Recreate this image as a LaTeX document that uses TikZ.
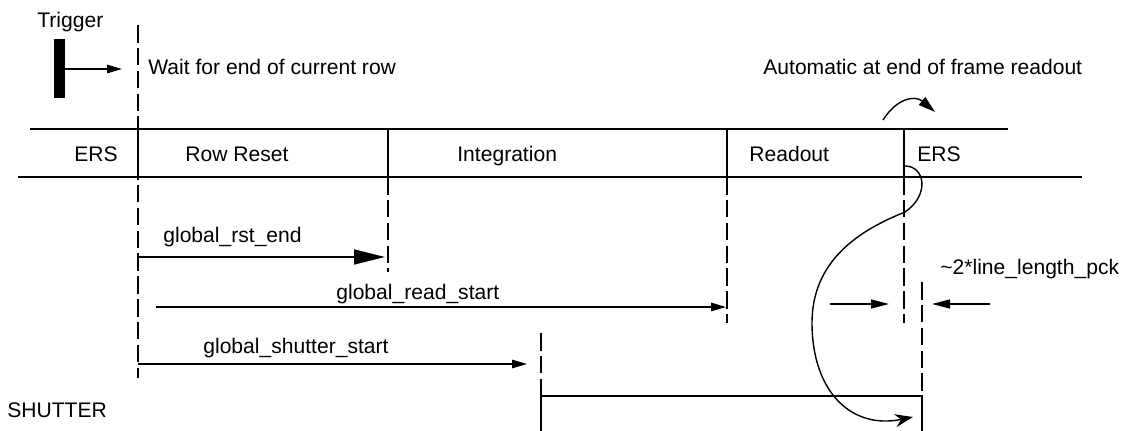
\documentclass[tikz,border=0pt]{standalone}
\usepackage{fontspec}
\setmainfont{Liberation Sans}
\usetikzlibrary{arrows.meta}

\begin{document}
\begin{tikzpicture}[
    x=0.02cm, y=-0.02cm,
    txt/.style={inner sep=0pt, font=\fontsize{12}{14}\selectfont},
    solidline/.style={line width=0.8pt},
    guide/.style={line width=0.8pt, dash pattern=on 10pt off 3pt},
    arrow/.style={line width=0.8pt, -{Triangle[length=3mm, width=1.7mm]}},
    bigarrow/.style={line width=0.8pt, -{Triangle[length=6.2mm, width=3mm]}},
    bendarrow/.style={line width=0.8pt, -{Stealth[length=3.6mm, width=2.6mm]}}
]
\useasboundingbox (0,0) rectangle (1124,431);

% trigger
\node[txt, anchor=base west] (trigger) at (37,28) {Trigger};
\node[fill, inner sep=0pt, minimum width=0.21cm, minimum height=1.18cm] (bar) at (59.5,69) {};
\coordinate (trigTip) at (122,69);
\draw[arrow] (bar.east) -- (trigTip);
\node[txt, anchor=base west] (wait) at (148,75) {Wait for end of current row};
\node[txt, anchor=base west] (auto) at (763,75) {Automatic at end of frame readout};

% row band
\coordinate (topL) at (30,129);
\coordinate (topR) at (1008,129);
\coordinate (botL) at (18,177);
\coordinate (botR) at (1082,177);
\draw[solidline] (topL) -- (topR);
\draw[solidline] (botL) -- (botR);
\foreach \x/\n in {138/a, 388/b, 727/c, 904/d} {
    \coordinate (up\n) at (\x,129);
    \coordinate (dn\n) at (\x,177);
    \draw[solidline] (up\n) -- (dn\n);
}
\node[txt, anchor=base east] (ersA) at (118,162) {ERS};
\node[txt, anchor=base west] (reset) at (185,162) {Row Reset};
\node[txt, anchor=base west] (integ) at (457,162) {Integration};
\node[txt, anchor=base west] (readout) at (749,162) {Readout};
\node[txt, anchor=base west] (ersB) at (917,162) {ERS};

% guides
\coordinate (trigTop) at (138,25);
\coordinate (trigBot) at (138,378);
\coordinate (rstBot) at (388,272);
\coordinate (readBot) at (727,323);
\coordinate (ersBot) at (904,323);
\coordinate (pckTop) at (922,282);
\coordinate (shutTop) at (541,333);
\coordinate (shutL) at (541,396);
\coordinate (shutR) at (922,396);
\coordinate (shutLB) at (541,431);
\coordinate (shutRB) at (922,431);
\draw[guide] (trigTop) -- (trigBot);
\draw[guide] (dnb) -- (rstBot);
\draw[guide] (dnc) -- (readBot);
\draw[guide] (dnd) -- (ersBot);
\draw[guide] (pckTop) -- (shutR);
\draw[guide] (shutTop) -- (shutL);

% timers
\coordinate (rstA) at (138,257);
\coordinate (rstB) at (385,257);
\coordinate (readA) at (156,307);
\coordinate (readB) at (726,307);
\coordinate (shutA) at (138,364);
\coordinate (shutB) at (527,364);
\node[txt, anchor=base west] (rstlbl) at (163,243) {global\_rst\_end};
\draw[bigarrow] (rstA) -- (rstB);
\node[txt, anchor=base west] (readlbl) at (336,300) {global\_read\_start};
\draw[arrow] (readA) -- (readB);
\node[txt, anchor=base west] (shutlbl) at (203,354) {global\_shutter\_start};
\draw[arrow] (shutA) -- (shutB);

% shutter
\node[txt, anchor=base west] (shutter) at (7,418) {SHUTTER};
\draw[solidline] (shutLB) -- (shutL) -- (shutR) -- (shutRB);

% line length
\node[txt, anchor=base west] (pck) at (940,275) {\textasciitilde 2*line\_length\_pck};
\coordinate (inA) at (830,304);
\coordinate (inB) at (889,304);
\coordinate (outA) at (990,304);
\coordinate (outB) at (932,304);
\draw[arrow, -{Triangle[length=3.6mm, width=1.8mm]}] (inA) -- (inB);
\draw[arrow, -{Triangle[length=3.6mm, width=1.8mm]}] (outA) -- (outB);

% bends
\coordinate (autoA) at (883,120);
\coordinate (autoB) at (935,112);
\draw[line width=0.8pt, -{Triangle[length=3.4mm, width=2mm]}] (autoA) .. controls (897,98) and (915,95) .. (autoB);
\coordinate (loopA) at (905,166);
\coordinate (loopB) at (905,212);
\coordinate (loopC) at (812,323);
\coordinate (loopD) at (913,417);
\draw[bendarrow] (loopA) .. controls (925,166) and (930,195) .. (loopB)
    .. controls (860,230) and (812,260) .. (loopC)
    .. controls (812,390) and (850,430) .. (loopD);
\end{tikzpicture}
\end{document}
